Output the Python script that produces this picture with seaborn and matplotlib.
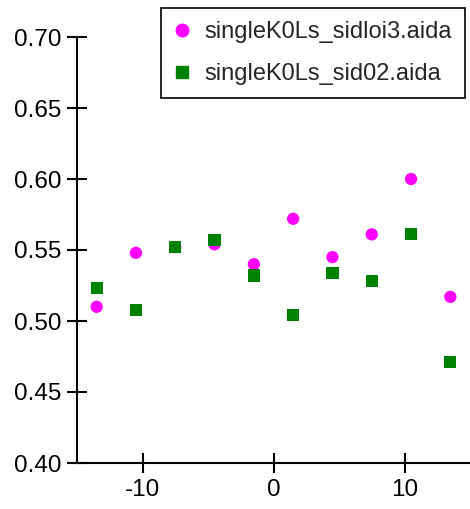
import matplotlib.pyplot as plt
import numpy as np
import pandas as pd
import seaborn as sns
from matplotlib.ticker import FormatStrFormatter

sns.set_theme(style="ticks")
plt.rcParams["font.family"] = ["Liberation Sans", "DejaVu Sans"]
plt.rcParams["axes.unicode_minus"] = False

# bin centres shared by both files
bins = [-13.5, -10.5, -7.5, -4.5, -1.5, 1.5, 4.5, 7.5, 10.5, 13.5]
sidloi3 = [0.510, 0.548, 0.552, 0.554, 0.540, 0.572, 0.545, 0.561, 0.600, 0.517]
sid02 = [0.523, 0.508, 0.552, 0.557, 0.532, 0.504, 0.534, 0.528, 0.5615, 0.471]
labels = ["singleK0Ls_sidloi3.aida", "singleK0Ls_sid02.aida"]

df = pd.DataFrame({
    "x": bins * 2,
    "y": sidloi3 + sid02,
    "file": [labels[0]] * len(bins) + [labels[1]] * len(bins),
})

fig = plt.figure(figsize=(4.70, 5.09), dpi=100)
ax = fig.add_axes([77 / 470, 46 / 509, 1 - 77 / 470, (463 - 37) / 509])

sns.scatterplot(
    data=df, x="x", y="y", hue="file", style="file",
    palette={labels[0]: "magenta", labels[1]: "green"},
    markers={labels[0]: "o", labels[1]: "s"},
    s=78, linewidth=0, ax=ax, legend=False,
)

ax.set_xlim(-15, 15)
ax.set_ylim(0.40, 0.70)
ax.set_xticks([-10, 0, 10])
ax.set_yticks(np.arange(0.40, 0.701, 0.05))
ax.yaxis.set_major_formatter(FormatStrFormatter("%.2f"))
ax.set_xlabel("")
ax.set_ylabel("")
sns.despine(ax=ax)
for side in ["left", "bottom"]:
    ax.spines[side].set_linewidth(1.5)
    ax.spines[side].set_color("black")
ax.tick_params(direction="inout", length=15, width=1.5, color="black",
               labelsize=17.5, labelcolor="black", pad=4)

handles = [
    plt.Line2D([], [], marker="o", color="magenta", linestyle="", markersize=9),
    plt.Line2D([], [], marker="s", color="green", linestyle="", markersize=9),
]
leg = fig.legend(handles, labels, loc="upper right",
                 bbox_to_anchor=(465 / 470, 1 - 8 / 509),
                 fontsize=17, frameon=True, fancybox=False, handlelength=0.7,
                 handletextpad=0.6, borderpad=0.55, labelspacing=0.85,
                 borderaxespad=0)
leg.get_frame().set_edgecolor("black")
leg.get_frame().set_linewidth(1.2)
leg.get_frame().set_alpha(1)

fig.savefig("out.png", dpi=100)
